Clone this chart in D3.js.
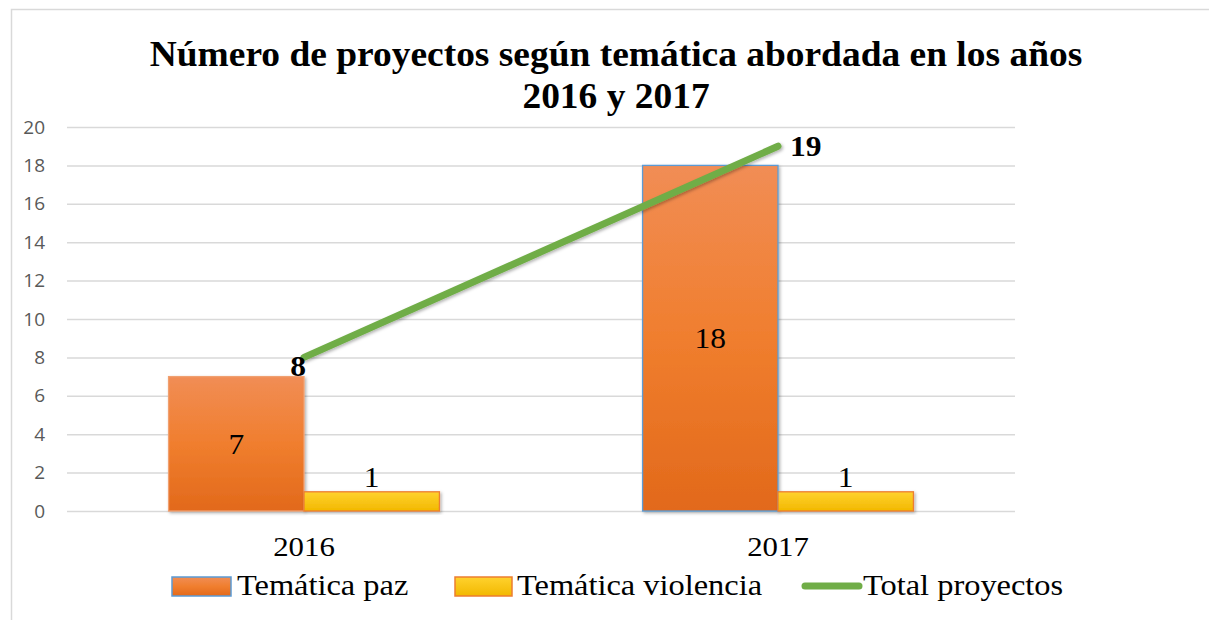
<!DOCTYPE html>
<html lang="es">
<head>
  <meta charset="UTF-8">
  <title>Número de proyectos</title>
  <script src="https://d3js.org/d3.v7.min.js"></script>
  <style>
    body { margin: 0; padding: 0; background: #fff; }
    svg { display: block; }
  </style>
</head>
<body>
  <svg id="chart" width="1209" height="620"></svg>
  <script>
    const years = ["2016", "2017"];
    const paz = [7, 18];
    const violencia = [1, 1];
    const total = [8, 19];
    const yTicks = [0, 2, 4, 6, 8, 10, 12, 14, 16, 18, 20];
    const pazBorders = ["#f0a070", "#5b9bd5"];

    const svg = d3.select("#chart");
    const W = 1209, H = 620;
    const plot = { left: 67, right: 1015, top: 127, bottom: 511 };
    const serif = "'Liberation Serif', 'Times New Roman', serif";

    // the original is slightly wider than normal Times, so text gets stretched a bit
    function stretchText(parent, x, y, sx, txt, size, bold, anchor) {
      return parent.append("text")
        .attr("transform", `translate(${x},${y}) scale(${sx},1)`)
        .attr("text-anchor", anchor || "middle")
        .style("font-family", serif).style("font-size", size + "px")
        .style("font-weight", bold ? "bold" : "normal")
        .attr("fill", "#000")
        .text(txt);
    }

    // gradients + shadow
    const defs = svg.append("defs");
    const gPaz = defs.append("linearGradient").attr("id", "gPaz").attr("x1", 0).attr("y1", 0).attr("x2", 0).attr("y2", 1);
    gPaz.append("stop").attr("offset", "0%").attr("stop-color", "#f18d55");
    gPaz.append("stop").attr("offset", "50%").attr("stop-color", "#f07e2e");
    gPaz.append("stop").attr("offset", "100%").attr("stop-color", "#e2691b");
    const gVio = defs.append("linearGradient").attr("id", "gVio").attr("x1", 0).attr("y1", 0).attr("x2", 0).attr("y2", 1);
    gVio.append("stop").attr("offset", "0%").attr("stop-color", "#ffd22e");
    gVio.append("stop").attr("offset", "100%").attr("stop-color", "#f2b800");
    const sh = defs.append("filter").attr("id", "shadow").attr("x", "-10%").attr("y", "-10%").attr("width", "130%").attr("height", "130%");
    sh.append("feDropShadow").attr("dx", 1.5).attr("dy", 1.5).attr("stdDeviation", 1.5).attr("flood-color", "#000").attr("flood-opacity", 0.3);

    // outer frame
    svg.append("rect").attr("x", 11.5).attr("y", 9.5).attr("width", W + 20).attr("height", H + 20)
      .attr("fill", "none").attr("stroke", "#d9d9d9").attr("stroke-width", 1.5);

    // title
    stretchText(svg, 616, 66, 1.07, "Número de proyectos según temática abordada en los años", 35, true);
    stretchText(svg, 616, 108, 1.07, "2016 y 2017", 35, true);

    const x0 = d3.scaleBand().domain(years).range([plot.left, plot.right]);
    const inner = ["paz", "violencia"];
    const x1 = d3.scaleBand().domain(inner).range([0, x0.bandwidth()]).paddingInner(0).paddingOuter(0.75);
    const y = d3.scaleLinear().domain([0, 20]).range([plot.bottom, plot.top]);

    // gridlines
    svg.append("g").selectAll("line").data(yTicks).join("line")
      .attr("x1", plot.left).attr("x2", plot.right)
      .attr("y1", d => y(d) + 0.5).attr("y2", d => y(d) + 0.5)
      .attr("stroke", "#d9d9d9").attr("stroke-width", 1.5);

    // y axis labels
    const yAxis = svg.append("g").attr("transform", `translate(${plot.left - 22},0)`)
      .call(d3.axisLeft(y).tickValues(yTicks).tickSize(0).tickPadding(0));
    yAxis.select(".domain").remove();
    yAxis.selectAll("text").style("font-family", "'Open Sans', 'Liberation Sans', sans-serif")
      .style("font-size", "19px").attr("fill", "#595959");

    // bars
    const rows = years.map((yr, i) => ({ year: yr, i, paz: paz[i], violencia: violencia[i] }));
    const groups = svg.append("g").selectAll("g").data(rows).join("g")
      .attr("transform", d => `translate(${x0(d.year)},0)`);

    groups.append("rect")
      .attr("x", x1("paz")).attr("width", x1.bandwidth())
      .attr("y", d => y(d.paz)).attr("height", d => y(0) - y(d.paz))
      .attr("fill", "url(#gPaz)").attr("stroke", d => pazBorders[d.i]).attr("stroke-width", 1.3)
      .attr("filter", "url(#shadow)");
    groups.append("rect")
      .attr("x", x1("violencia")).attr("width", x1.bandwidth())
      .attr("y", d => y(d.violencia)).attr("height", d => y(0) - y(d.violencia))
      .attr("fill", "url(#gVio)").attr("stroke", "#ed7d31").attr("stroke-width", 1.3)
      .attr("filter", "url(#shadow)");

    groups.each(function (d) {
      const g = d3.select(this);
      stretchText(g, x1("paz") + x1.bandwidth() / 2, y(d.paz / 2) + 10, 1.05, d.paz, 30, false);
      stretchText(g, x1("violencia") + x1.bandwidth() / 2, y(d.violencia) - 5, 1.05, d.violencia, 30, false);
    });

    // x axis labels
    years.forEach(yr => stretchText(svg, x0(yr) + x0.bandwidth() / 2, 556, 1.1, yr, 28, false));

    // total line
    const pts = years.map((yr, i) => [x0(yr) + x0.bandwidth() / 2, y(total[i])]);
    svg.append("path").datum(pts)
      .attr("d", d3.line())
      .attr("fill", "none").attr("stroke", "#70ad47").attr("stroke-width", 7)
      .attr("stroke-linecap", "round").attr("filter", "url(#shadow)");

    stretchText(svg, pts[0][0] - 6, pts[0][1] + 19, 1.05, total[0], 30, true);
    stretchText(svg, pts[1][0] + 12, pts[1][1] + 10, 1.05, total[1], 30, true, "start");

    // legend
    const legend = svg.append("g");
    const lg1 = legend.append("g").attr("transform", "translate(172,577)");
    lg1.append("rect").attr("width", 59).attr("height", 19).attr("fill", "url(#gPaz)").attr("stroke", "#5b9bd5").attr("stroke-width", 1.5);
    stretchText(lg1, 65, 18, 1.08, "Temática paz", 30, false, "start");
    const lg2 = legend.append("g").attr("transform", "translate(455,577)");
    lg2.append("rect").attr("width", 57).attr("height", 19).attr("fill", "url(#gVio)").attr("stroke", "#ed7d31").attr("stroke-width", 1.5);
    stretchText(lg2, 62, 18, 1.08, "Temática violencia", 30, false, "start");
    const lg3 = legend.append("g").attr("transform", "translate(805,586)");
    lg3.append("line").attr("x1", 0).attr("x2", 54).attr("y1", 0).attr("y2", 0)
      .attr("stroke", "#70ad47").attr("stroke-width", 7).attr("stroke-linecap", "round");
    stretchText(lg3, 58, 9, 1.08, "Total proyectos", 30, false, "start");
  </script>
</body>
</html>
